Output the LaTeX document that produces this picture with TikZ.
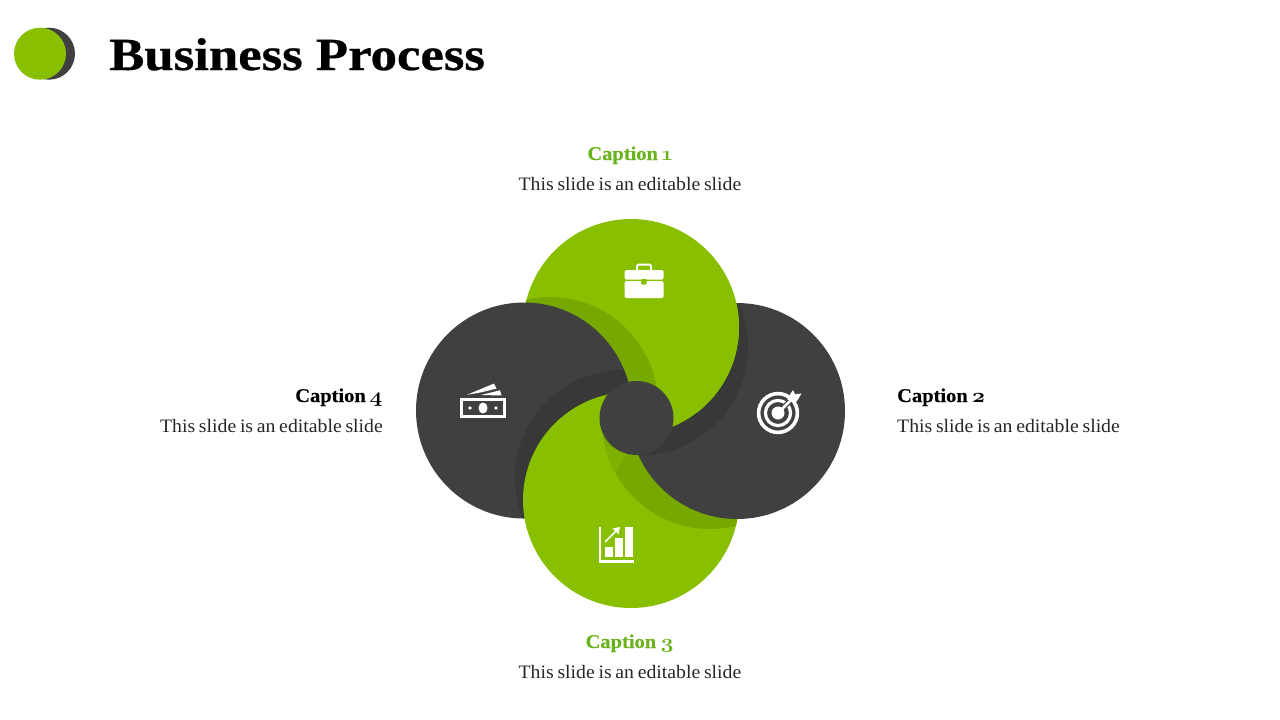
\documentclass[tikz,border=0pt]{standalone}
\usepackage{fontspec}
\setmainfont{Liberation Serif}
\newfontfamily\bodyf[FakeStretch=1.04,WordSpace=0.75]{Liberation Serif}
\newfontfamily\headf[FakeStretch=1.05,FakeBold=0.3]{Liberation Serif Bold}
\newfontfamily\titlef[FakeStretch=1.147,FakeBold=0.6]{Liberation Serif Bold}
\newfontfamily\numf[Numbers=OldStyle,FakeStretch=1.15]{Latin Modern Roman}
\definecolor{gr}{HTML}{88C000}
\definecolor{grs}{HTML}{76A800}
\definecolor{grt}{HTML}{7EB200}
\definecolor{dk}{HTML}{404040}
\definecolor{dks}{HTML}{383838}
\definecolor{cap}{HTML}{6BB31C}
\tikzset{
 captext/.style={inner sep=0pt,font=\headf\fontsize{19.5}{22}\selectfont},
 bodytext/.style={inner sep=0pt,text=black!85,font=\bodyf\fontsize{19}{22}\selectfont},
 icon/.style={fill=white,draw=none},
 iconline/.style={draw=white,line width=2pt}
}
\newcommand{\NTop}{(631,327) circle (108)}
\newcommand{\NRight}{(737,411) circle (108)}
\newcommand{\NBot}{(631,500) circle (108)}
\newcommand{\NLeft}{(524,410.5) circle (108)}
\newcommand{\capnum}[1]{Caption\hspace{-1.5pt} {\numf\bfseries\fontsize{20}{22}\selectfont #1}}
\begin{document}
\begin{tikzpicture}[x=1pt,y=-1pt]
\useasboundingbox (0,0) rectangle (1280,720);
% logo
\fill[dk] (49,53.7) circle (26);
\fill[gr] (40,53.7) circle (26);
\node[anchor=base west,inner sep=0pt,font=\titlef\fontsize{46}{50}\selectfont] (title) at (109,70) {Business Process};
% swirl
\fill[dk] \NRight;
\begin{scope}\clip \NRight; \fill[dks] (640,347) circle (108); \end{scope}
\fill[gr] \NTop;
\begin{scope}\clip \NTop; \fill[grs] (550,405) circle (108); \end{scope}
\fill[dk] \NLeft;
\begin{scope}\clip \NLeft; \fill[dks] (623,478) circle (108); \end{scope}
\fill[gr] \NBot;
\begin{scope}\clip \NBot; \fill[grs] (710,421) circle (108);
 \begin{scope}\clip (710,421) circle (108); \fill[grt] (590,440) -- (627,452) -- (614,476) -- (590,490) -- cycle; \end{scope}
\end{scope}
% right circle back over the bottom one
\begin{scope}\clip (631,500) circle (109.5);
 \fill[dk] \NRight;
 \begin{scope}\clip \NRight; \fill[dks] (640,347) circle (108); \end{scope}
\end{scope}
% top circle back over the right one
\begin{scope}\clip \NRight;
 \fill[gr] \NTop;
 \begin{scope}\clip \NTop; \fill[grs] (550,405) circle (108); \end{scope}
\end{scope}
\fill[dk] (636.5,418) circle (37);
% briefcase
\fill[icon,rounded corners=1.5pt] (624.5,270) rectangle (663.5,279.7);
\fill[icon,rounded corners=1.5pt] (624.5,281.2) rectangle (663.5,298);
\draw[iconline,rounded corners=2pt] (637,270) -- (637,264.5) -- (651,264.5) -- (651,270);
\fill[gr,rounded corners=1pt] (641,279) rectangle (646.5,284.5);
% target
\draw[white,line width=3.6pt] (778,413) circle (19.4);
\draw[white,line width=3.2pt] (778,413) circle (12.6);
\draw[dk,line width=5pt] (778,413) -- (795,396);
\fill[white] (778,413) circle (6.5);
\draw[white,line width=2.6pt] (778,413) -- (792,399);
\fill[white] (787,399) -- (793,390) -- (795,394.3) -- (801.5,393.5) -- (797,401) -- (793.5,403) -- cycle;
% chart
\fill[icon] (598.5,527) rectangle (600.7,562);
\fill[icon] (598.5,560) rectangle (633.5,562.5);
\fill[icon] (604.5,547) rectangle (612.5,556.5);
\fill[icon] (615,538) rectangle (622.5,556.5);
\fill[icon] (625,527) rectangle (633,556.5);
\draw[white,line width=1.6pt] (605,542) -- (617,530);
\fill[white] (612.5,528.5) -- (620,527) -- (618.5,534.5) -- cycle;
% money
\draw[white,line width=2.8pt] (461.4,399.4) rectangle (504.6,416.6);
\fill[white] (483,408) ellipse (4.5 and 5.6);
\fill[white] (470,408) circle (1.8);
\fill[white] (496,408) circle (1.8);
\fill[white] (467,394.8) -- (494,383.6) -- (496.5,388.5) -- (481,392.4) -- cycle;
\fill[white] (481,395) -- (500,390.3) -- (501.5,395.5) -- cycle;
% text
\node[captext,text=cap,anchor=base] (c1) at (630,160) {\capnum{1}};
\node[bodytext] (b1) at (630,183.5) {This slide is an editable slide};
\node[captext,text=cap,anchor=base] (c3) at (630,648) {\capnum{3}};
\node[bodytext] (b3) at (630,671.5) {This slide is an editable slide};
\node[captext,anchor=base east] (c4) at (383,402) {\capnum{4}};
\node[bodytext,anchor=east] (b4) at (383,425.5) {This slide is an editable slide};
\node[captext,anchor=base west] (c2) at (897,402) {\capnum{2}};
\node[bodytext,anchor=west] (b2) at (897,425.5) {This slide is an editable slide};
\end{tikzpicture}
\end{document}
